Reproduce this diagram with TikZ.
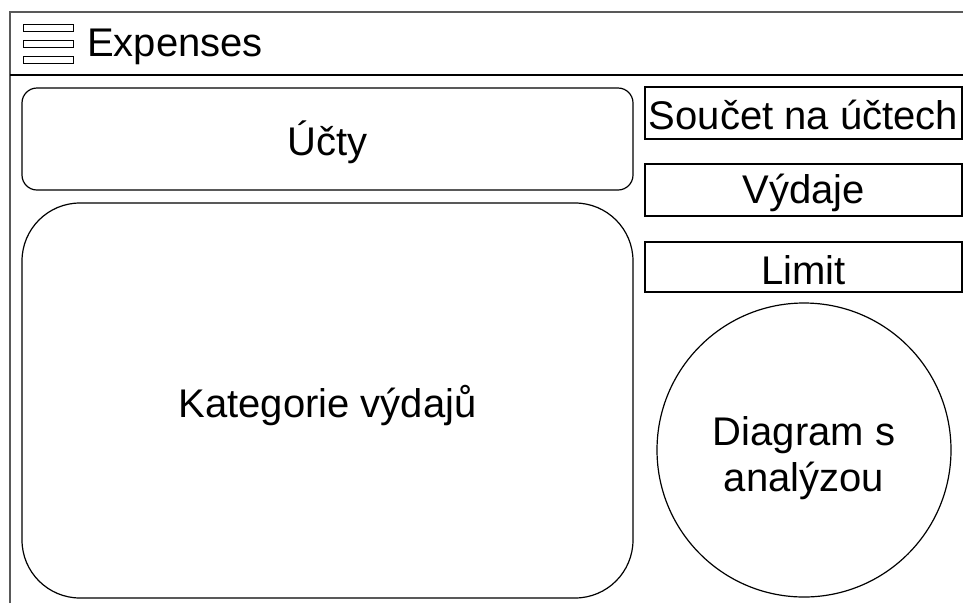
\documentclass[tikz,border=0pt]{standalone}
\usepackage{fontspec}
\setmainfont{Liberation Sans}
\begin{document}
\begin{tikzpicture}[x=1pt,y=-1pt,
  every node/.style={font=\fontsize{40}{46}\selectfont, text=black},
  tile/.style={draw=black, line width=1.2pt, inner sep=0pt},
  frame/.style={draw=black!65, line width=2pt},
  bar/.style={draw=black, line width=1pt}]
\useasboundingbox (0,0) rectangle (963,603);
% window frame and header
\draw[frame] (10,603) -- (10,12) -- (963,12);
\coordinate (hl) at (10,75);
\coordinate (hr) at (963,75);
\draw[draw=black, line width=1.2pt] (hl) -- (hr);
% menu icon
\foreach \y in {24,40,56} \draw[bar] (23,\y) rectangle (73,\y+7);
\node[anchor=base west, inner sep=0pt] (title) at (87,56) {Expenses};
% left column
\node[tile, rounded corners=15pt, minimum width=611pt, minimum height=102pt] (ucty) at (327.5,139) {};
\node at (327.5,142) {Účty};
\node[tile, rounded corners=58pt, minimum width=611pt, minimum height=395pt] (kat) at (327.5,400.5) {};
\node at (327.5,406) {Kategorie výdajů};
% right column
\node[tile, minimum width=317pt, minimum height=52pt] (soucet) at (803.5,113) {};
\node at (803.5,115) {Součet na účtech};
\node[tile, minimum width=317pt, minimum height=52pt] (vydaje) at (803.5,190) {};
\node at (803.5,193) {Výdaje};
\node[tile, minimum width=317pt, minimum height=50pt] (limit) at (803.5,267) {};
\node at (803.5,270) {Limit};
\node[tile, circle, minimum size=294pt] (diag) at (804,450) {};
\node[align=center] at (804,458) {Diagram s\\analýzou};
\end{tikzpicture}
\end{document}
